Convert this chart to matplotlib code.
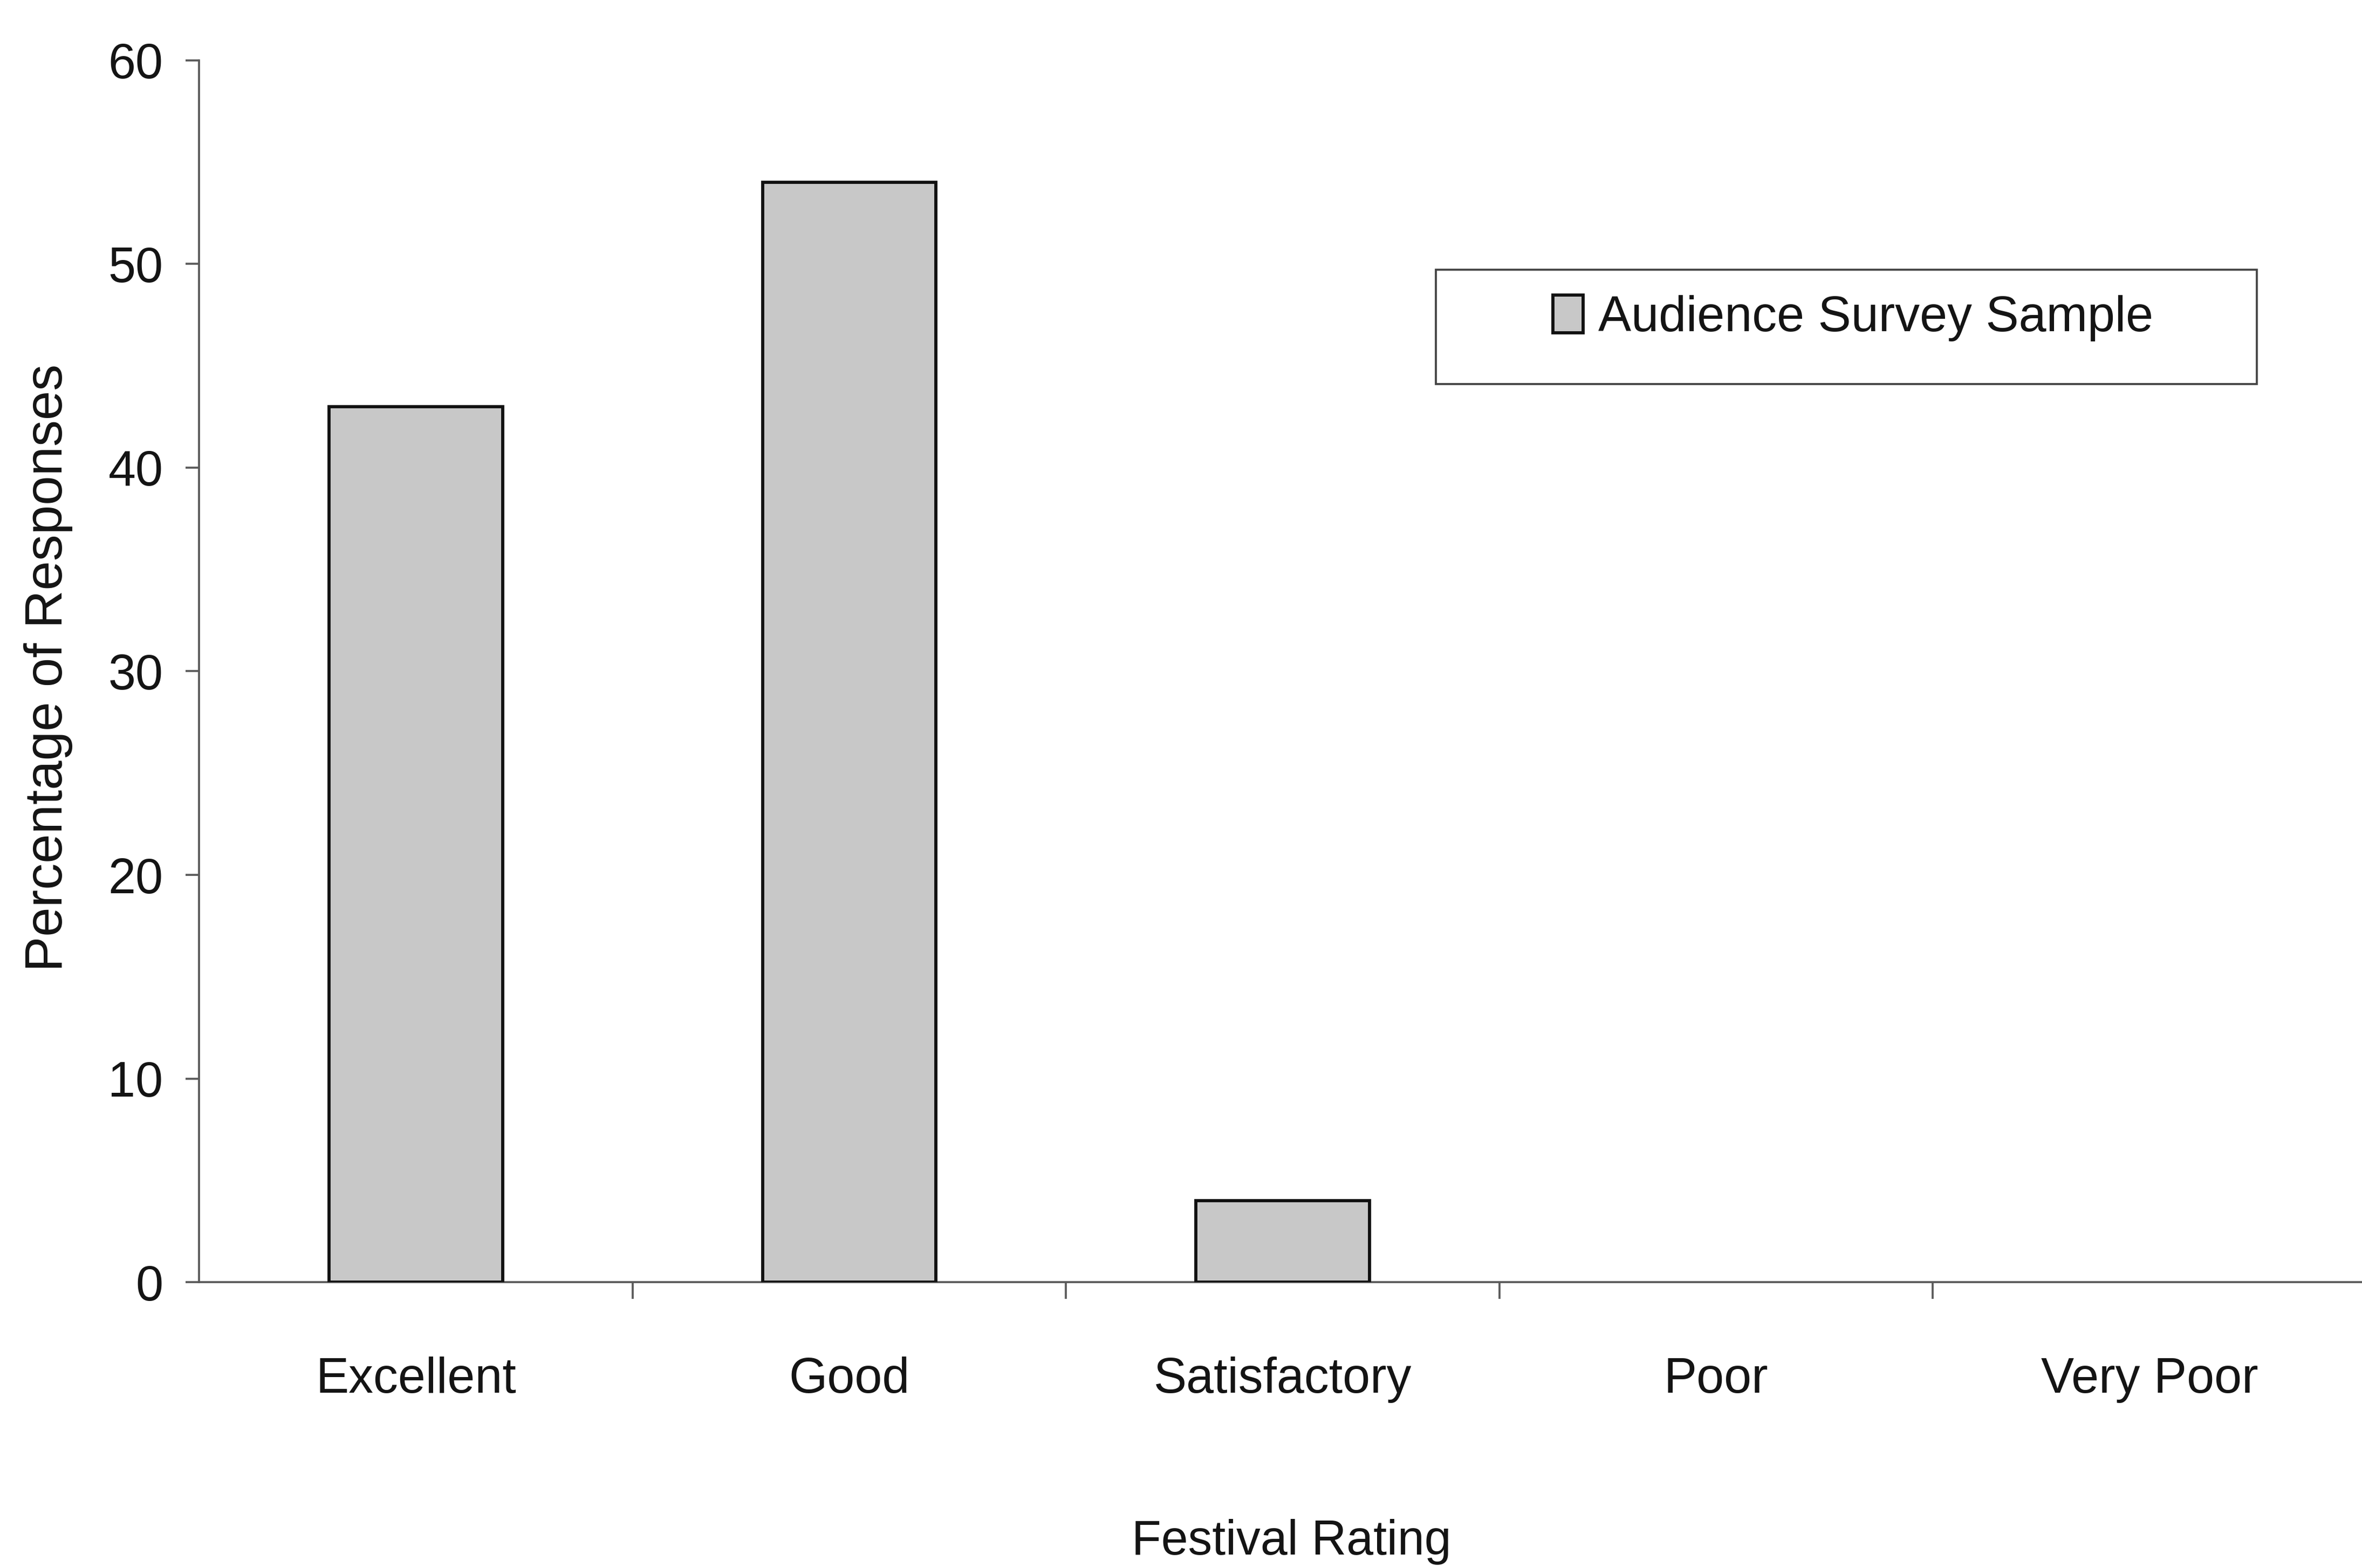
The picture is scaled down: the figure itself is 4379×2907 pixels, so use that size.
import matplotlib
matplotlib.use("Agg")
import matplotlib.pyplot as plt
from matplotlib.patches import Rectangle
import numpy as np

# Survey results: share of responses per festival rating
categories = ["Excellent", "Good", "Satisfactory", "Poor", "Very Poor"]
percentages = [43, 54, 4, 0, 0]
series_name = "Audience Survey Sample"
y_ticks = [0, 10, 20, 30, 40, 50, 60]

plt.rcParams["font.family"] = ["Liberation Sans", "DejaVu Sans"]
text_color = "#141414"
axis_color = "#5a5a5a"

fig = plt.figure(figsize=(4379 / 300, 2907 / 300), dpi=300)
fig.patch.set_facecolor("white")
ax = fig.add_axes([0.0843, 0.1823, 0.9175, 0.7792])

x = np.arange(len(categories))
bars = ax.bar(x, percentages, width=0.40, color="#c8c8c8",
              edgecolor="#111111", linewidth=1.4, label=series_name, zorder=3)
for rect, v in zip(bars, percentages):
    if v == 0:
        rect.set_linewidth(0)

ax.set_xlim(-0.5, len(categories) - 0.5)
ax.set_ylim(0, 60)

# spines
for side in ("top", "right"):
    ax.spines[side].set_visible(False)
for side in ("left", "bottom"):
    ax.spines[side].set_color(axis_color)
    ax.spines[side].set_linewidth(0.9)

# y axis
ax.set_yticks(y_ticks)
ax.tick_params(axis="y", direction="out", length=6, width=0.9,
               color=axis_color, pad=10, labelsize=22, labelcolor=text_color)

# x axis: ticks between categories, labels centred under each category
ax.set_xticks(np.arange(len(categories)) + 0.5)
ax.set_xticklabels([])
ax.tick_params(axis="x", which="major", direction="out", length=7.4,
               width=0.9, color=axis_color)
ax.set_xticks(x, minor=True)
ax.set_xticklabels(categories, minor=True)
ax.tick_params(axis="x", which="minor", length=0, pad=33,
               labelsize=22, labelcolor=text_color)

ax.set_xlabel("Festival Rating", fontsize=21.5, color=text_color)
ax.xaxis.set_label_coords(0.504, -0.194)
ax.set_ylabel("Percentage of Responses", fontsize=23.5, color=text_color)
ax.yaxis.set_label_coords(-0.0584, 0.503)

# legend with its own frame
ax.legend(handles=[bars], loc="center", bbox_to_anchor=(0.7845, 0.797),
          bbox_transform=fig.transFigure, frameon=False, fontsize=22,
          handlelength=0.62, handleheight=0.8, handletextpad=0.3,
          borderpad=0, labelcolor=text_color)
fig.add_artist(Rectangle((0.6078, 0.7551), 0.3476, 0.0729,
                         transform=fig.transFigure, fill=False,
                         edgecolor="#444444", linewidth=0.9))

fig.savefig("out.png", dpi=300, facecolor="white")
